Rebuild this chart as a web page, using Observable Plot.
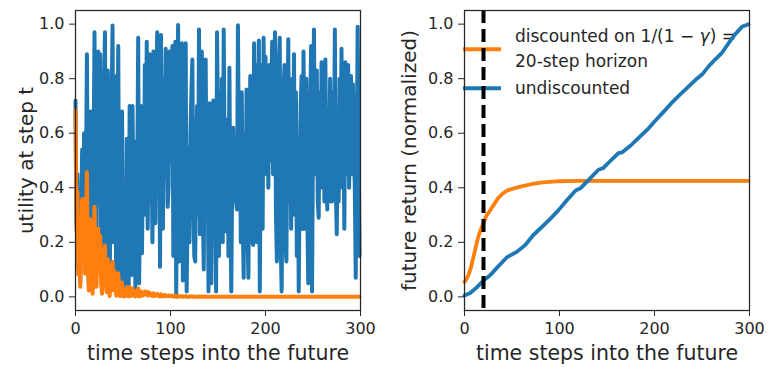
<!DOCTYPE html>
<html>
<head>
<meta charset="utf-8">
<script src="https://cdn.jsdelivr.net/npm/d3@7"></script>
<script src="https://cdn.jsdelivr.net/npm/@observablehq/plot@0.6"></script>
<style>
  html, body { margin: 0; padding: 0; background: #ffffff; }
  #wrap { display: flex; width: 775px; height: 375px; }
  #wrap svg { overflow: visible; }
</style>
</head>
<body>
<div id="wrap"></div>
<script>
// ---------- data ----------
// utility at each time step t = 0..299 (left panel, blue)
const utility = [
  0.72, 0.27, 0.45, 0.10, 0.35, 0.05, 0.30, 0.54, 0.20, 0.60,
  0.15, 0.40, 0.89, 0.30, 0.05, 0.62, 0.68, 0.25, 0.03, 0.50,
  0.97, 0.40, 0.12, 0.60, 0.90, 0.35, 0.89, 0.20, 0.05, 0.45,
  0.75, 0.97, 0.30, 0.10, 0.83, 0.40, 0.02, 0.55, 0.70, 0.995,
  0.20, 0.81, 0.35, 0.04, 0.50, 0.92, 0.15, 0.03, 0.40, 0.68,
  0.10, 0.02, 0.30, 0.05, 0.58, 0.25, 0.04, 0.70, 0.30, 0.08,
  0.70, 0.35, 0.57, 0.03, 0.20, 0.45, 0.95, 0.05, 0.40, 0.70,
  0.16, 0.55, 0.30, 0.85, 0.45, 0.935, 0.25, 0.60, 0.89, 0.35,
  0.60, 0.20, 0.90, 0.50, 0.27, 0.70, 0.97, 0.40, 0.62, 0.11,
  0.96, 0.55, 0.25, 0.80, 0.45, 0.91, 0.60, 0.33, 0.40, 0.90,
  0.50, 0.70, 0.92, 0.15, 0.60, 0.935, 0.01, 0.45, 0.997, 0.13,
  0.50, 0.80, 0.93, 0.06, 0.40, 0.70, 0.93, 0.02, 0.30, 0.55,
  0.20, 0.60, 0.75, 0.87, 0.40, 0.15, 0.13, 0.50, 0.70, 0.30,
  0.98, 0.23, 0.60, 0.90, 0.35, 0.10, 0.70, 0.87, 0.40, 0.60,
  0.02, 0.71, 0.35, 0.05, 0.45, 0.72, 0.30, 0.55, 0.02, 0.97,
  0.60, 0.15, 0.75, 0.30, 0.80, 0.20, 0.98, 0.50, 0.30, 0.24,
  0.65, 0.15, 0.84, 0.30, 0.02, 0.45, 0.62, 0.35, 0.55, 0.35,
  0.32, 0.996, 0.50, 0.75, 0.20, 0.75, 0.30, 0.07, 0.60, 0.20,
  0.76, 0.25, 0.07, 0.55, 0.81, 0.20, 0.60, 0.19, 0.93, 0.30,
  0.85, 0.20, 0.60, 0.94, 0.02, 0.55, 0.85, 0.25, 0.95, 0.50,
  0.88, 0.45, 0.65, 0.40, 0.85, 0.50, 0.70, 0.935, 0.45, 0.80,
  0.97, 0.30, 0.13, 0.50, 0.85, 0.95, 0.20, 0.02, 0.45, 0.75,
  0.85, 0.20, 0.13, 0.60, 0.945, 0.35, 0.80, 0.25, 0.70, 0.40,
  0.89, 0.30, 0.75, 0.15, 0.55, 0.02, 0.45, 0.70, 0.81, 0.25,
  0.90, 0.40, 0.25, 0.80, 0.30, 0.05, 0.40, 0.65, 0.92, 0.02,
  0.60, 0.98, 0.45, 0.70, 0.83, 0.35, 0.29, 0.75, 0.40, 0.86,
  0.45, 0.80, 0.35, 0.87, 0.50, 0.32, 0.69, 0.40, 0.80, 0.35,
  0.35, 0.75, 0.45, 0.98, 0.40, 0.23, 0.60, 0.35, 0.80, 0.45,
  0.91, 0.40, 0.70, 0.25, 0.86, 0.45, 0.75, 0.85, 0.40, 0.70,
  0.81, 0.45, 0.78, 0.60, 0.40, 0.07, 0.50, 0.99, 0.60, 0.15
];
// discount factor (1/(1 - gamma) = 20-step horizon)
const gamma = 0.95;
const horizon = [20];

// right panel: normalized future return, undiscounted (blue)
const undiscountedSteps = [0, 6, 13, 20, 27, 35, 45, 55, 64, 72, 82, 90, 99, 108, 117, 122, 131, 141, 146, 154, 162, 166, 175, 183, 194, 202, 210, 218, 227, 236, 243, 250, 257, 264, 271, 278, 285, 292, 299];
const undiscountedReturn = [0.005, 0.014, 0.035, 0.06, 0.079, 0.11, 0.146, 0.165, 0.19, 0.225, 0.258, 0.285, 0.318, 0.355, 0.39, 0.398, 0.43, 0.466, 0.472, 0.5, 0.527, 0.53, 0.555, 0.582, 0.619, 0.65, 0.68, 0.711, 0.742, 0.772, 0.795, 0.815, 0.845, 0.871, 0.895, 0.93, 0.963, 0.99, 1.0];
// right panel: normalized future return, discounted (orange)
const discountedSteps = [0, 2, 4, 7, 10, 13, 15, 18, 20, 23, 26, 30, 35, 40, 45, 50, 60, 70, 80, 90, 100, 120, 150, 200, 250, 299];
const discountedReturn = [0.055, 0.065, 0.079, 0.11, 0.155, 0.2, 0.225, 0.255, 0.27, 0.298, 0.312, 0.333, 0.36, 0.378, 0.39, 0.396, 0.405, 0.413, 0.419, 0.422, 0.424, 0.425, 0.425, 0.425, 0.425, 0.425];

const xTicks = [0, 100, 200, 300];
const yTicks = [0, 0.2, 0.4, 0.6, 0.8, 1.0];
const xLabel = "time steps into the future";
const yLabelLeft = "utility at step t";
const yLabelRight = "future return (normalized)";
const legendDiscounted = ["discounted on 1/(1 \u2212 ", "\u03B3", ") =", "20-step horizon"];
const legendUndiscounted = "undiscounted";

// ---------- styling ----------
const BLUE = "#1f77b4", ORANGE = "#ff7f0e", INK = "#262626";
const FONT = "DejaVu Sans";

// discounted utility derived from the utility series
const discountedUtility = utility.map((u, t) => u * Math.pow(gamma, t + 1));
const steps = utility.map((u, t) => t);

const common = {
  height: 375,
  marginTop: 10,
  marginBottom: 65,
  style: { fontFamily: FONT, fontSize: "16px", color: INK, background: "#ffffff" },
  x: { domain: [0, 300] },
  y: { domain: [-0.05, 1.05] }
};

function axes(yLabel, labelDx) {
  return [
    Plot.frame({ stroke: INK, strokeWidth: 1.25 }),
    Plot.axisX(xTicks, { tickSize: 6, tickPadding: 6.5, fontSize: 16, label: null, stroke: INK }),
    Plot.axisY(yTicks, { tickSize: 6, tickPadding: 5, fontSize: 16, label: null, tickFormat: d3.format(".1f"), stroke: INK }),
    Plot.text([xLabel], { text: d => d, frameAnchor: "bottom", lineAnchor: "middle", dy: 42.6, fontSize: 20.5, fill: INK }),
    Plot.text([yLabel], { text: d => d, frameAnchor: "left", rotate: -90, textAnchor: "middle", lineAnchor: "middle", dx: labelDx, fontSize: 20, fill: INK })
  ];
}

const left = Plot.plot({
  ...common,
  width: 387,
  marginLeft: 75,
  marginRight: 27,
  marks: [
    Plot.line(utility, { x: steps, y: utility, stroke: BLUE, strokeWidth: 4, strokeLinejoin: "round", strokeLinecap: "round" }),
    Plot.line(discountedUtility, { x: steps, y: discountedUtility, stroke: ORANGE, strokeWidth: 4, strokeLinejoin: "round", strokeLinecap: "round" }),
    ...axes(yLabelLeft, -49)
  ]
});

const right = Plot.plot({
  ...common,
  width: 388,
  marginLeft: 77,
  marginRight: 26,
  marks: [
    Plot.line(discountedReturn, { x: discountedSteps, y: discountedReturn, stroke: ORANGE, strokeWidth: 3.8, strokeLinejoin: "round", strokeLinecap: "round" }),
    Plot.line(undiscountedReturn, { x: undiscountedSteps, y: undiscountedReturn, stroke: BLUE, strokeWidth: 3.8, strokeLinejoin: "round", strokeLinecap: "round" }),
    Plot.ruleX(horizon, { x: d => d, stroke: "#000000", strokeWidth: 4, strokeDasharray: "13,6" }),
    ...axes(yLabelRight, -55)
  ]
});

document.getElementById("wrap").append(left, right);

// legend inside the right panel (upper area, no frame)
const leg = d3.select(right).insert("g", "g[aria-label='line']")
  .attr("font-family", FONT).attr("font-size", 17).attr("fill", INK)
  .attr("text-anchor", "start");
leg.append("line").attr("x1", 76).attr("x2", 114).attr("y1", 49.3).attr("y2", 49.3)
  .attr("stroke", ORANGE).attr("stroke-width", 4);
const t1 = leg.append("text").attr("x", 128).attr("y", 41.7);
t1.append("tspan").text(legendDiscounted[0]);
t1.append("tspan").attr("font-style", "italic").text(legendDiscounted[1]);
t1.append("tspan").text(legendDiscounted[2]);
leg.append("text").attr("x", 128).attr("y", 66.7).text(legendDiscounted[3]);
leg.append("line").attr("x1", 76).attr("x2", 114).attr("y1", 88.3).attr("y2", 88.3)
  .attr("stroke", BLUE).attr("stroke-width", 4);
leg.append("text").attr("x", 128).attr("y", 94.3).text(legendUndiscounted);
</script>
</body>
</html>
